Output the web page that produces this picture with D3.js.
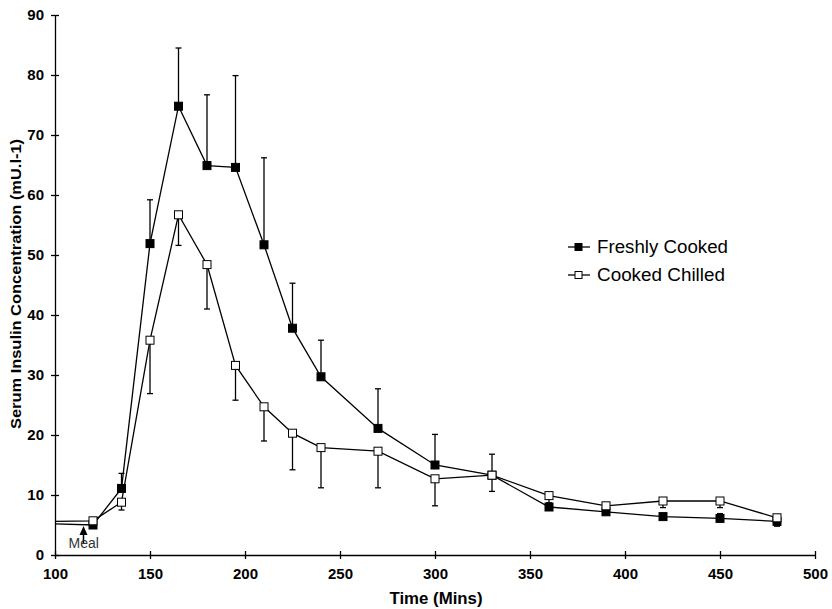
<!DOCTYPE html>
<html>
<head>
<meta charset="utf-8">
<script src="https://cdn.jsdelivr.net/npm/d3@7"></script>
<style>
  body { margin: 0; background: #fff; }
  text { font-family: "Liberation Sans", Arial, sans-serif; }
</style>
</head>
<body>
<svg id="chart" width="832" height="609"></svg>
<script>
// ---- data ----
const times = [120, 135, 150, 165, 180, 195, 210, 225, 240, 270, 300, 330, 360, 390, 420, 450, 480];
const freshValues = [5.0, 11.1, 51.9, 74.8, 64.9, 64.6, 51.7, 37.8, 29.7, 21.1, 15.0, 13.3, 8.0, 7.2, 6.4, 6.1, 5.6];
// error bar ends (null = no visible bar)
const freshErrEnd = [null, 13.6, 59.2, 84.5, 76.7, 79.9, 66.2, 45.3, 35.8, 27.7, 20.1, 16.8, null, null, null, 6.9, 4.8];
const chilledValues = [5.7, 8.8, 35.8, 56.7, 48.4, 31.6, 24.7, 20.3, 17.9, 17.3, 12.7, 13.3, 9.9, 8.2, 9.0, 9.0, 6.2];
const chilledErrEnd = [null, 7.5, 26.9, 51.6, 41.0, 25.8, 19.0, 14.2, 11.2, 11.2, 8.2, 10.6, 8.7, null, 7.9, 7.9, null];
const baselineTime = 100;
const freshBaseline = 5.2;
const chilledBaseline = 5.6;
const xTicks = [100, 150, 200, 250, 300, 350, 400, 450, 500];
const yTicks = [0, 10, 20, 30, 40, 50, 60, 70, 80, 90];
const seriesNames = ["Freshly Cooked", "Cooked Chilled"];
const mealTime = 115;

// ---- layout ----
const svg = d3.select("#chart");
const x = d3.scaleLinear().domain([100, 500]).range([55, 815]);
const y = d3.scaleLinear().domain([0, 90]).range([555, 15]);

// axes
const xAxis = d3.axisBottom(x).tickValues(xTicks).tickSizeInner(4).tickSizeOuter(0).tickPadding(9);
const gx = svg.append("g").attr("transform", `translate(0,${y(0)})`).call(xAxis);
gx.select(".domain").attr("stroke", "#000").attr("stroke-width", 1.3);
gx.selectAll(".tick line").attr("y1", -4).attr("y2", 4).attr("stroke-width", 1.3);
gx.selectAll(".tick text").attr("font-size", 15).attr("font-weight", "bold").attr("fill", "#000")
  .attr("font-family", "Liberation Sans, Arial, sans-serif");

const yAxis = d3.axisLeft(y).tickValues(yTicks).tickSizeInner(4).tickSizeOuter(0).tickPadding(7);
const gy = svg.append("g").attr("transform", `translate(${x(100)},0)`).call(yAxis);
gy.select(".domain").attr("stroke", "#000").attr("stroke-width", 1.3);
gy.selectAll(".tick line").attr("x1", -4).attr("x2", 4).attr("stroke-width", 1.3);
gy.selectAll(".tick text").attr("font-size", 15).attr("font-weight", "bold").attr("fill", "#000")
  .attr("font-family", "Liberation Sans, Arial, sans-serif");

// axis titles
svg.append("text").attr("x", 436).attr("y", 604).attr("text-anchor", "middle")
  .attr("font-size", 16).attr("font-weight", "bold")
  .attr("textLength", 93).attr("lengthAdjust", "spacingAndGlyphs").text("Time (Mins)");
svg.append("text").attr("transform", `translate(21,284) rotate(-90)`)
  .attr("text-anchor", "middle").attr("font-size", 14.5).attr("font-weight", "bold")
  .attr("textLength", 290).attr("lengthAdjust", "spacingAndGlyphs")
  .text("Serum Insulin Concentration (mU.l-1)");

// series
const series = [
  { name: seriesNames[0], vals: freshValues, err: freshErrEnd, base: freshBaseline, fill: "#000", w: 131 },
  { name: seriesNames[1], vals: chilledValues, err: chilledErrEnd, base: chilledBaseline, fill: "#fff", w: 128 }
];
const line = d3.line().x(d => x(d[0])).y(d => y(d[1]));

series.forEach(s => {
  const pts = [[baselineTime, s.base]].concat(times.map((t, i) => [t, s.vals[i]]));
  const g = svg.append("g");
  times.forEach((t, i) => {
    if (s.err[i] == null) return;
    g.append("line").attr("x1", x(t)).attr("x2", x(t)).attr("y1", y(s.vals[i])).attr("y2", y(s.err[i]))
      .attr("stroke", "#000").attr("stroke-width", 1.3);
    g.append("line").attr("x1", x(t) - 3).attr("x2", x(t) + 3).attr("y1", y(s.err[i])).attr("y2", y(s.err[i]))
      .attr("stroke", "#000").attr("stroke-width", 1.3);
  });
  s.pts = pts;
});
series.forEach(s => {
  svg.append("path").datum(s.pts).attr("d", line).attr("fill", "none")
    .attr("stroke", "#000").attr("stroke-width", 1.3);
});
series.forEach(s => {
  svg.append("g").selectAll("rect").data(times.map((t, i) => [t, s.vals[i]])).join("rect")
    .attr("x", d => x(d[0]) - 4).attr("y", d => y(d[1]) - 4)
    .attr("width", 8).attr("height", 8)
    .attr("fill", s.fill).attr("stroke", "#000").attr("stroke-width", 1);
});

// legend
const legend = svg.append("g");
series.forEach((s, i) => {
  const ly = 247 + i * 28;
  legend.append("line").attr("x1", 568).attr("x2", 590).attr("y1", ly).attr("y2", ly)
    .attr("stroke", "#000").attr("stroke-width", 1.3);
  legend.append("rect").attr("x", 575).attr("y", ly - 3.5).attr("width", 7).attr("height", 7)
    .attr("fill", s.fill).attr("stroke", "#000").attr("stroke-width", 1);
  legend.append("text").attr("x", 597).attr("y", ly + 6).attr("font-size", 17.5).attr("fill", "#000")
    .attr("textLength", s.w).attr("lengthAdjust", "spacingAndGlyphs")
    .text(s.name);
});

// meal annotation
const mx = x(mealTime);
svg.append("line").attr("x1", mx).attr("x2", mx).attr("y1", y(0) - 12).attr("y2", y(5) + 8)
  .attr("stroke", "#000").attr("stroke-width", 1.5);
svg.append("path")
  .attr("d", `M${mx},${y(5) + 1} L${mx - 4},${y(5) + 10} L${mx + 4},${y(5) + 10} Z`)
  .attr("fill", "#000");
svg.append("text").attr("x", mx - 15).attr("y", y(0) - 7).attr("font-size", 14)
  .attr("fill", "#333").text("Meal");
</script>
</body>
</html>
